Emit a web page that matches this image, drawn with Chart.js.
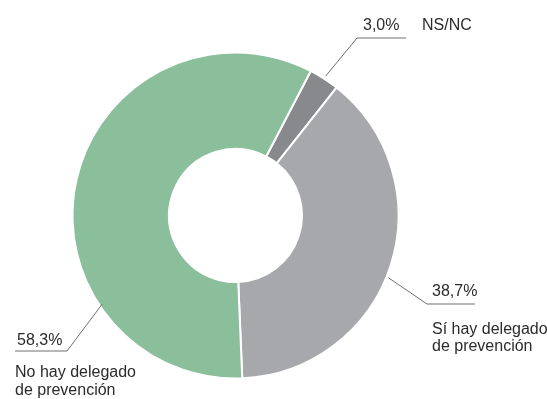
<!DOCTYPE html>
<html>
<head>
<meta charset="utf-8">
<script src="https://cdn.jsdelivr.net/npm/chart.js@4/dist/chart.umd.min.js"></script>
<style>
  html, body { margin: 0; padding: 0; background: #fff; }
  #chart { display: block; }
</style>
</head>
<body>
<canvas id="chart" width="547" height="399"></canvas>
<script>
// Slices in clockwise order, starting from the small NS/NC wedge
const categories = ['NS/NC', 'Sí hay delegado de prevención', 'No hay delegado de prevención'];
const values = [3.0, 38.7, 58.3];
const sliceColors = ['#88898c', '#a7a8ac', '#8bbf9c'];

// Label text: percentage above the leader line, description below it
const labelLines = [
    ['NS/NC'],
    ['Sí hay delegado', 'de prevención'],
    ['No hay delegado', 'de prevención']
];

// Leader line placement, relative to the doughnut centre
// t: where on the slice the line starts (0..1 along the arc)
const leaderStyle = [
    { t: 0.5, r: 166, elbow: [121.5, -177.5], endX: 170.5, side: 'right', inline: true },
    { t: 0.53, r: 165, elbow: [191.5, 88.5], endX: 239.5, side: 'right', inline: false },
    { t: 0.28, r: 160, elbow: [-168.5, 135.5], endX: -220.5, side: 'left', inline: false }
];

function formatPct(v) {
    return v.toFixed(1).replace('.', ',') + '%';
}

const calloutPlugin = {
    id: 'callouts',
    afterDatasetsDraw(chart) {
        const ctx = chart.ctx;
        const meta = chart.getDatasetMeta(0);
        ctx.save();
        ctx.font = '16px "Liberation Sans", Arial, sans-serif';
        ctx.textBaseline = 'alphabetic';
        meta.data.forEach((arc, i) => {
            const p = arc.getProps(['x', 'y', 'startAngle', 'endAngle'], true);
            const s = leaderStyle[i];
            const a = p.startAngle + (p.endAngle - p.startAngle) * s.t;
            const x0 = p.x + Math.cos(a) * s.r;
            const y0 = p.y + Math.sin(a) * s.r;
            const ex = p.x + s.elbow[0];
            const ey = p.y + s.elbow[1];
            const endX = p.x + s.endX;

            ctx.strokeStyle = '#6d6e70';
            ctx.lineWidth = 1;
            ctx.beginPath();
            ctx.moveTo(x0, y0);
            ctx.lineTo(ex, ey);
            ctx.lineTo(endX, ey);
            ctx.stroke();

            ctx.fillStyle = '#2b2b2b';
            const pct = formatPct(values[i]);
            if (s.inline) {
                // percentage and name side by side above the line
                ctx.textAlign = 'left';
                ctx.fillText(pct, ex + 6, ey - 8);
                ctx.fillText(labelLines[i][0], ex + 65, ey - 8);
            } else if (s.side === 'right') {
                ctx.textAlign = 'left';
                ctx.fillText(pct, ex + 5, ey - 8);
                labelLines[i].forEach((line, k) => {
                    ctx.fillText(line, ex + 5, ey + 30 + k * 17);
                });
            } else {
                ctx.textAlign = 'left';
                ctx.fillText(pct, endX + 2, ey - 6);
                labelLines[i].forEach((line, k) => {
                    ctx.fillText(line, endX, ey + 26 + k * 18);
                });
            }
        });
        ctx.restore();
    }
};

new Chart(document.getElementById('chart'), {
    type: 'doughnut',
    data: {
        labels: categories,
        datasets: [{
            data: values,
            backgroundColor: sliceColors,
            borderColor: '#ffffff',
            borderWidth: 2
        }]
    },
    options: {
        responsive: false,
        animation: false,
        rotation: 27.5,
        cutout: 66.5,
        layout: {
            padding: { left: 71.5, right: 147.5, top: 51.5, bottom: 19.5 }
        },
        plugins: {
            legend: { display: false },
            tooltip: { enabled: false }
        }
    },
    plugins: [calloutPlugin]
});
</script>
</body>
</html>
